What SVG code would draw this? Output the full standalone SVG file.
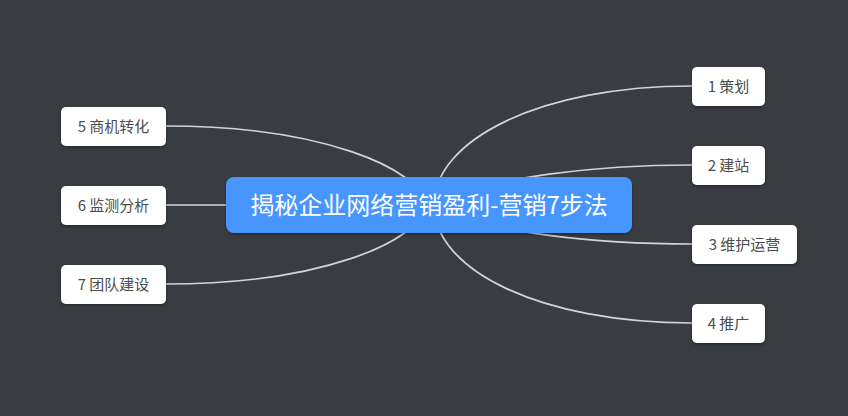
<svg xmlns="http://www.w3.org/2000/svg" width="848" height="416" viewBox="0 0 848 416">
<defs>
<filter id="sh" x="-20%" y="-30%" width="140%" height="160%">
<feDropShadow dx="0" dy="1.5" stdDeviation="1.5" flood-color="#000" flood-opacity="0.35"/>
</filter>
<style>
.bg{fill:#393c41}
.conn path{fill:none;stroke:#d4d4d4;stroke-width:1.7}
.leaf rect{fill:#ffffff;filter:url(#sh)}
.leaf text{font-family:"Noto Sans CJK SC","Noto Sans",sans-serif;font-size:15px;fill:#4d4d4d;text-anchor:middle}
.root rect{fill:#4796ff;filter:url(#sh)}
.root text{font-family:"Noto Sans CJK SC","Noto Sans",sans-serif;font-size:24px;fill:#ffffff;text-anchor:middle}
</style>
</defs>
<rect class="bg" x="0" y="0" width="848" height="416"/>
<g id="connectors" class="conn">
<path d="M434 205 C434 140,540 86,692 86"/>
<path d="M430 205 C490 176,600 165,692 165"/>
<path d="M430 205 C490 234,600 244,692 244"/>
<path d="M434 205 C434 270,540 323,692 323"/>
<path d="M426 205 C420 168,320 126,166 126"/>
<path d="M226 205 L166 205"/>
<path d="M426 205 C420 242,320 284,166 284"/>
</g>
<g id="root" class="root">
<rect x="226" y="177" width="406" height="56" rx="8"/>
<text x="429" y="213.5">揭秘企业网络营销盈利-营销7步法</text>
</g>
<g id="n1" class="leaf">
<rect x="692" y="67" width="73" height="39" rx="5"/>
<text x="728.5" y="92">1 策划</text>
</g>
<g id="n2" class="leaf">
<rect x="692" y="146" width="73" height="39" rx="5"/>
<text x="728.5" y="171">2 建站</text>
</g>
<g id="n3" class="leaf">
<rect x="692" y="225" width="105" height="39" rx="5"/>
<text x="744.5" y="250">3 维护运营</text>
</g>
<g id="n4" class="leaf">
<rect x="692" y="304" width="73" height="39" rx="5"/>
<text x="728.5" y="329">4 推广</text>
</g>
<g id="n5" class="leaf">
<rect x="61" y="107" width="105" height="39" rx="5"/>
<text x="113.5" y="132">5 商机转化</text>
</g>
<g id="n6" class="leaf">
<rect x="61" y="186" width="105" height="39" rx="5"/>
<text x="113.5" y="211">6 监测分析</text>
</g>
<g id="n7" class="leaf">
<rect x="61" y="265" width="105" height="39" rx="5"/>
<text x="113.5" y="290">7 团队建设</text>
</g>
</svg>
